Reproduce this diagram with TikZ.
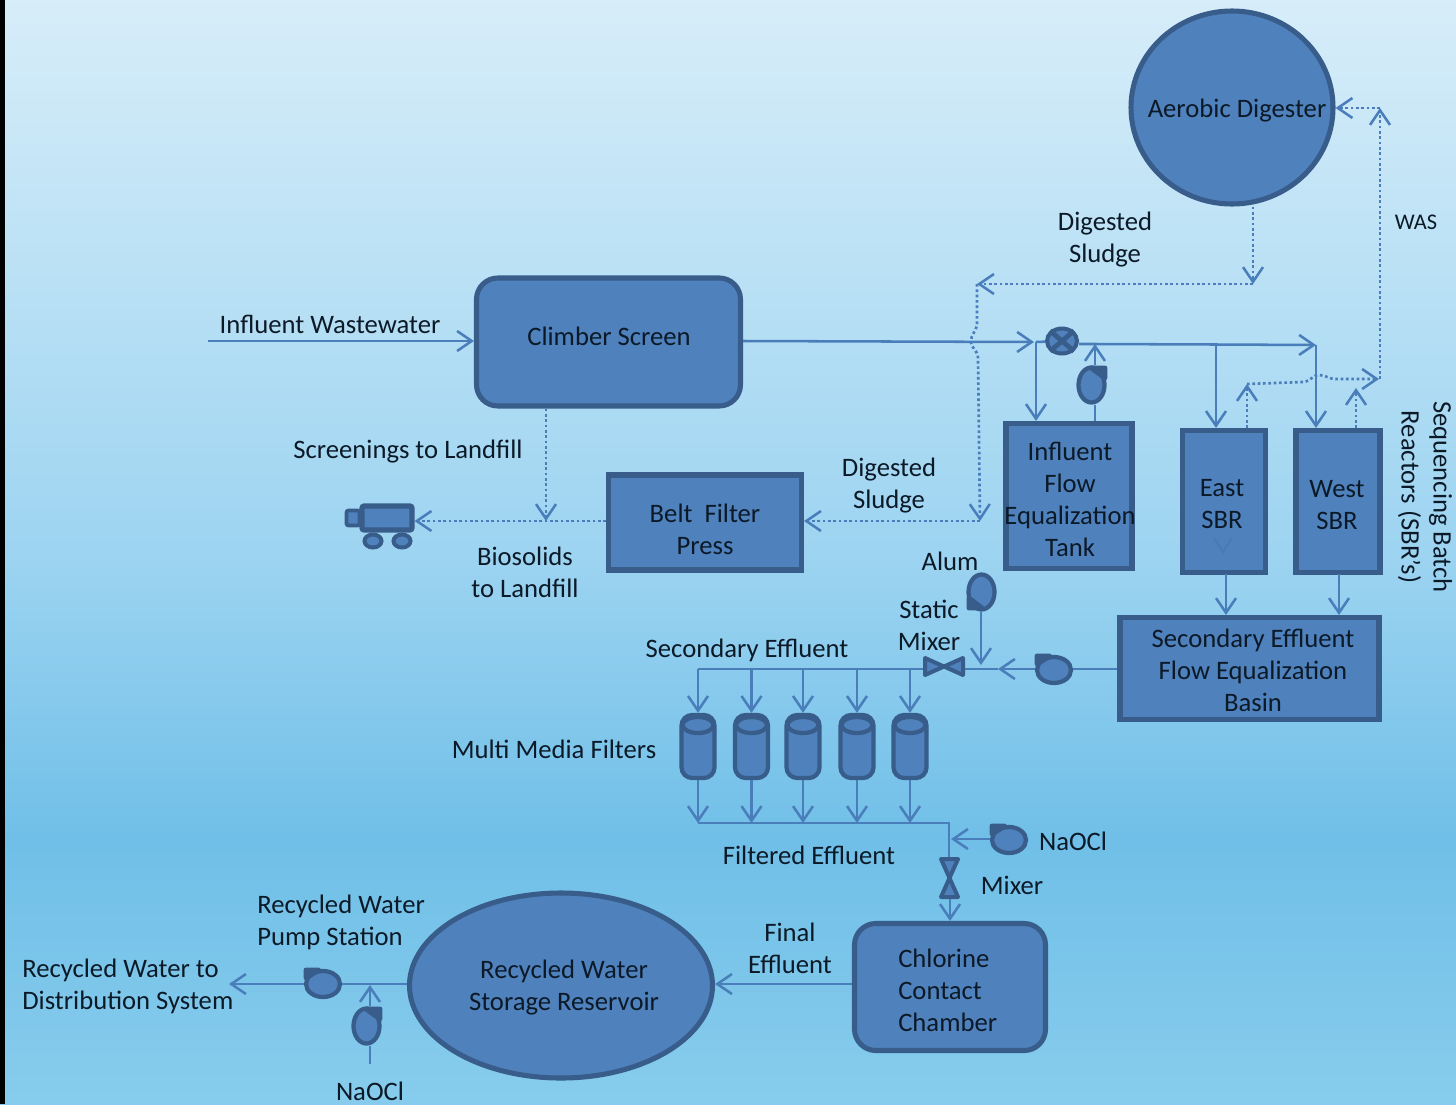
\documentclass[tikz,border=0pt]{standalone}
\usepackage{fontspec}
\setmainfont{Carlito}
\usetikzlibrary{arrows.meta,shapes.geometric}
\definecolor{bgtop}{HTML}{D7EDF9}
\definecolor{bgmid}{HTML}{9DD4F1}
\definecolor{bglow}{HTML}{70BFE8}
\definecolor{bgbot}{HTML}{87CCEC}
\definecolor{shapefill}{HTML}{4F81BD}
\definecolor{shapeedge}{HTML}{385D8A}
\definecolor{flowline}{HTML}{4A7EBB}
\definecolor{inktext}{HTML}{0C1A28}
\pgfdeclareverticalshading{skyshade}{100bp}{color(0bp)=(bgbot); color(25bp)=(bgbot); color(37bp)=(bglow); color(50bp)=(bgmid); color(75bp)=(bgtop); color(100bp)=(bgtop)}
\def\px{0.75pt}
\tikzset{
  unit/.style={draw=shapeedge,fill=shapefill,line width=3.8pt,inner sep=0pt},
  boxshape/.style={unit,rectangle},
  roundshape/.style={unit,rectangle,rounded corners=16pt},
  ovalshape/.style={unit,ellipse},
  pumph/.style={draw=shapeedge,fill=shapefill,line width=3.2pt,ellipse,inner sep=0pt,minimum width=34*\px,minimum height=26*\px},
  pumpv/.style={draw=shapeedge,fill=shapefill,line width=3.2pt,ellipse,inner sep=0pt,minimum width=26*\px,minimum height=35*\px},
  pumptab/.style={draw=shapeedge,fill=shapeedge,line width=3.6pt,line cap=round,line join=round},
  filterbody/.style={draw=shapeedge,fill=shapefill,line width=3.2pt,rectangle,rounded corners=8pt,inner sep=0pt,minimum width=33*\px,minimum height=63*\px},
  filtertop/.style={draw=shapeedge,fill=shapefill,line width=3.2pt,ellipse,inner sep=0pt,minimum width=31*\px,minimum height=16*\px},
  valvebody/.style={draw=shapeedge,fill=shapefill,line width=3pt,line join=round},
  flow/.style={draw=flowline,line width=1.9pt},
  flowto/.style={flow,-{Straight Barb[length=11pt,width=15pt,line width=1.9pt]}},
  sludge/.style={draw=flowline,line width=2pt,dash pattern=on 2pt off 2pt},
  sludgeto/.style={sludge,-{Straight Barb[length=11pt,width=15pt,line width=1.9pt]}},
  lbl/.style={text=inktext,font=\fontsize{20}{24}\selectfont,align=center,inner sep=0pt},
  lblleft/.style={lbl,align=left,anchor=west},
  lblsmall/.style={lbl,font=\fontsize{16.8}{20}\selectfont},
}
\begin{document}
\begin{tikzpicture}[x=0.75pt,y=-0.75pt]
\useasboundingbox (0,0) rectangle (1456,1104);
% background
\shade[shading=skyshade] (0,0) rectangle (1456,1104);
\fill[black] (0,0) rectangle (5,1104);

% main process units
\node[roundshape,minimum width=264*\px,minimum height=128*\px] (climber) at (608.5,342) {};
\node[boxshape,minimum width=193*\px,minimum height=95*\px] (belt) at (705,522.5) {};
\node[boxshape,minimum width=126*\px,minimum height=145*\px] (ieq) at (1069,496) {};
\node[boxshape,minimum width=83*\px,minimum height=142*\px] (east) at (1224,501.5) {};
\node[boxshape,minimum width=84*\px,minimum height=142*\px] (west) at (1338,501.5) {};
\node[boxshape,minimum width=259*\px,minimum height=102*\px] (seq) at (1249.5,668.5) {};
\node[ovalshape,minimum width=202*\px,minimum height=193*\px] (aero) at (1232,107.5) {};
\node[roundshape,minimum width=191*\px,minimum height=127*\px] (chlor) at (950,987) {};
\node[ovalshape,minimum width=303*\px,minimum height=185*\px] (res) at (561,985.5) {};

% truck
\node[draw=shapeedge,fill=shapefill,line width=2.8pt,rectangle,rounded corners=1.5pt,inner sep=0pt,minimum width=13*\px,minimum height=15*\px] (cab) at (353,518) {};
\node[draw=shapeedge,fill=shapefill,line width=3.8pt,rectangle,rounded corners=1.5pt,inner sep=0pt,minimum width=50*\px,minimum height=24*\px] (truck) at (387,518) {};
\node[draw=shapeedge,fill=shapefill,line width=3pt,ellipse,inner sep=0pt,minimum width=17*\px,minimum height=13*\px] (wheelA) at (373,541) {};
\node[draw=shapeedge,fill=shapefill,line width=3pt,ellipse,inner sep=0pt,minimum width=17*\px,minimum height=13*\px] (wheelB) at (402,541) {};

% flow control valve
\node[draw=shapeedge,fill=shapefill,line width=3pt,ellipse,inner sep=0pt,minimum width=30*\px,minimum height=25*\px] (fc) at (1062,341) {};
\draw[shapeedge,line width=3.6pt] (fc.north west) -- (fc.south east) (fc.north east) -- (fc.south west);

% pumps
\node[pumpv] (pinf) at (1091.5,385) {};
\draw[pumptab] (1091,368) -- (1105,368) -- (1105,378) -- cycle;
\node[pumpv] (palum) at (981.5,592) {};
\draw[pumptab] (969,608) -- (982,608) -- (969,598) -- cycle;
\node[pumph] (psec) at (1054,670) {};
\draw[pumptab] (1037,656) -- (1050,656) -- (1037,664) -- cycle;
\node[pumph] (pnaocl) at (1009,840) {};
\draw[pumptab] (992,826) -- (1005,826) -- (992,834) -- cycle;
\node[pumph] (prw) at (323,984) {};
\draw[pumptab] (306,970) -- (319,970) -- (306,978) -- cycle;
\node[pumpv] (pdose) at (366.5,1026) {};
\draw[pumptab] (366,1009) -- (380,1009) -- (380,1019) -- cycle;

% valves
\node[inner sep=0pt,minimum width=42*\px,minimum height=21*\px] (smix) at (944,667) {};
\draw[valvebody] (925,658) -- (963,675) -- (963,658) -- (925,675) -- cycle;
\node[inner sep=0pt,minimum width=21*\px,minimum height=42*\px] (mix) at (950,878) {};
\draw[valvebody] (941,859) -- (958,897) -- (941,897) -- (958,859) -- cycle;

% filters
\foreach \i/\fx in {1/698,2/751.5,3/803,4/857,5/910}{
  \node[filterbody] (f\i) at (\fx,746.5) {};
  \node[filtertop] (ft\i) at (\fx,725) {};
}

% named free ends and junctions
\coordinate (srcIn) at (208,341);
\coordinate (mainTip) at (1034,342);
\coordinate (jIeq) at (1036,342);
\coordinate (jPump) at (1095,344);
\coordinate (jEast) at (1216,344.5);
\coordinate (jWest) at (1316,345);
\coordinate (dsBend) at (1253,284);
\coordinate (dsCorner) at (977,284);
\coordinate (dsTip) at (980,521);
\coordinate (screenHit) at (546,521);
\coordinate (wasE) at (1247,384);
\coordinate (wasW) at (1356,388);
\coordinate (wasTip) at (1379,379);
\coordinate (wasTop) at (1380,108);
\coordinate (jAlum) at (981,665);
\coordinate (secTip) at (998,669);
\coordinate (busT) at (698,669);
\coordinate (busB) at (698,823);
\coordinate (busBR) at (949,823);
\coordinate (naoclTip) at (951,839);
\coordinate (rwTip) at (229,984);
\coordinate (doseTail) at (370,1064);
\coordinate (doseTip) at (370,985);
\coordinate (beltOut) at (606,521);

% solid lines
\draw[flowto] (srcIn) -- (climber.west |- srcIn);
\draw[flowto] (climber.east |- srcIn) -- (mainTip);
\draw[flowto] (jIeq) -- (jIeq |- ieq.north);
\draw[flow] (jIeq) -- (fc);
\draw[flowto] (fc.east |- jPump) -- (jPump) -- (jEast) -- (jWest);
\draw[flowto] (jEast) -- (jEast |- east.north);
\draw[flowto] (jWest) -- (jWest |- west.north);
\draw[flow] (jPump |- ieq.north) -- (jPump |- pinf.south);
\draw[flowto] (jPump |- pinf.north) -- (jPump);
\draw[flowto] (1226,574) -- (1226,615);
\draw[flowto] (1339,574) -- (1339,615);
\draw[flow] (seq.west |- secTip) -- (psec.east |- secTip);
\draw[flowto] (psec.west |- secTip) -- (secTip);
\draw[flow] (secTip) -- (smix.east |- busT);
\draw[flowto] (palum.south -| jAlum) -- (jAlum);
\draw[flow] (smix.west |- busT) -- (busT);
\foreach \i in {1,...,5}{
  \draw[flowto] (f\i.north |- busT) -- (f\i.north);
  \draw[flowto] (f\i.south) -- (f\i.south |- busB);
}
\draw[flow] (busB) -- (busBR) -- (busBR |- mix.north);
\draw[flowto] (pnaocl.west |- naoclTip) -- (naoclTip);
\draw[flowto] (mix.south) -- (mix.south |- chlor.north);
\draw[flowto] (chlor.west |- rwTip) -- (res.east |- rwTip);
\draw[flow] (res.west |- rwTip) -- (prw.east);
\draw[flowto] (prw.west) -- (rwTip);
\draw[flow] (doseTail) -- (doseTail |- pdose.south);
\draw[flowto] (doseTip |- pdose.north) -- (doseTip);

% dotted lines
\draw[sludgeto] (climber.south -| screenHit) -- (screenHit);
\draw[sludgeto] (beltOut) -- (truck.east |- beltOut);
\draw[sludgeto] (aero.south -| dsBend) -- (dsBend);
\draw[sludgeto] (dsBend) -- (dsCorner);
\draw[sludgeto] (dsCorner) -- (977,325) .. controls (976,332) and (971,334) .. (971,341) .. controls (971,349) and (978,350) .. (978,358) -- (dsTip);
\draw[sludgeto] (dsTip) -- (belt.east |- dsTip);
\draw[sludgeto] (wasE |- east.north) -- (wasE);
\draw[sludgeto] (wasE) -- (1303,382) .. controls (1312,381) and (1312,375) .. (1319,375) .. controls (1326,375) and (1328,379) .. (1336,379) -- (wasTip);
\draw[sludgeto] (wasW |- west.north) -- (wasW);
\draw[sludgeto] (wasTip -| wasTop) -- (wasTop);
\draw[sludgeto] (wasTop) -- (aero.east |- wasTop);

% faint mark inside East SBR
\draw[color=flowline!88!shapeedge,line width=1.5pt] (1214,538) -- (1223,552) -- (1232,538);

% labels
\node[lbl] (tInf) at (330,324) {Influent Wastewater};
\node[lbl] (tClimb) at (609,336.5) {Climber Screen};
\node[lbl] (tScreen) at (408,451.5) {Screenings to Landfill};
\node[lbl] (tDs1) at (1105,240) {Digested\\Sludge};
\node[lblsmall] (tWas) at (1416,222) {WAS};
\node[lbl] (tAero) at (1237,110.5) {Aerobic Digester};
\node[lbl] (tBelt) at (705,529) {Belt\ \ Filter\\Press};
\node[lbl] (tDs2) at (889,486) {Digested\\Sludge};
\node[lbl] (tBio) at (525,572) {Biosolids\\to Landfill};
\node[lbl] (tIeq) at (1070,499) {Influent\\Flow\\Equalization\\Tank};
\node[lbl] (tEast) at (1222,504) {East\\SBR};
\node[lbl] (tWest) at (1337,505) {West\\SBR};
\node[lbl,rotate=-90] (tSbr) at (1425,497) {Sequencing Batch\\Reactors (SBR's)};
\node[lbl] (tAlum) at (950,561) {Alum};
\node[lbl] (tStatic) at (929,625) {Static\\Mixer};
\node[lbl] (tSec) at (747,650.5) {Secondary Effluent};
\node[lbl] (tSeq) at (1253,670) {Secondary Effluent\\Flow Equalization\\Basin};
\node[lbl] (tMulti) at (554,749) {Multi Media Fil{}ters};
\node[lbl] (tNa1) at (1073,841) {NaOCl};
\node[lbl] (tFilt) at (809,855) {Filtered Effluent};
\node[lbl] (tMix) at (1012,885) {Mixer};
\node[lbl] (tFinal) at (790,948) {Final\\Effluent};
\node[lblleft] (tChlor) at (898,990) {Chlorine\\Contact\\Chamber};
\node[lbl] (tRes) at (564,988) {Recycled Water\\Storage Reservoir};
\node[lblleft] (tPump) at (257,922) {Recycled Water\\Pump Station};
\node[lblleft] (tDist) at (22,986) {Recycled Water to\\Distribution System};
\node[lbl] (tNa2) at (370,1091) {NaOCl};
\end{tikzpicture}
\end{document}
